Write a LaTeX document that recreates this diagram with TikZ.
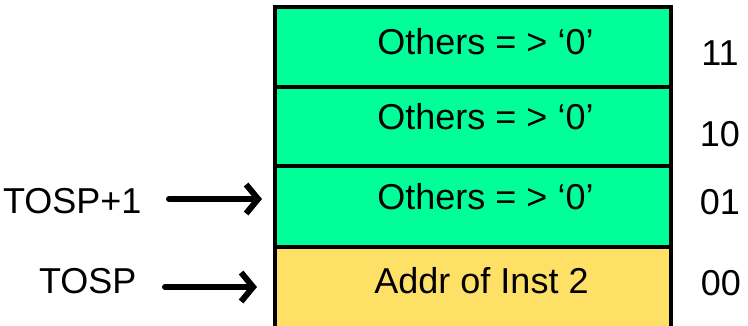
\documentclass[tikz,border=0pt]{standalone}
\usepackage{fontspec}
\setmainfont{Liberation Sans}
\usetikzlibrary{arrows.meta}
\definecolor{stackgreen}{RGB}{0,255,153}
\definecolor{stackyellow}{RGB}{255,224,102}
\tikzset{
	cell/.style={draw, line width=4pt, minimum width=396pt, inner sep=0pt},
	ptr/.style={line width=6pt, line cap=round, line join=round, -{Straight Barb[length=12pt,width=29pt]}},
}
\begin{document}
\begin{tikzpicture}[x=1pt, y=-1pt, every node/.append style={font=\fontsize{36}{40}\selectfont}]
			\useasboundingbox (0,0) rectangle (748,325);
			
			% the stack, entry 11 on top
			\node[cell, fill=stackgreen, minimum height=79.5pt] (c11) at (473,46.75) {};
			\node[cell, fill=stackgreen, minimum height=79.5pt] (c10) at (473,126.25) {};
			\node[cell, fill=stackgreen, minimum height=80.5pt] (c01) at (473,206.25) {};
			\node[cell, fill=stackyellow, minimum height=98.5pt] (c00) at (473,295.75) {};
			
			\node[anchor=base] (t11) at (485.5,54.5) {Others = > ‘0’};
			\node[anchor=base] (t10) at (485.5,129.5) {Others = > ‘0’};
			\node[anchor=base] (t01) at (485.5,209) {Others = > ‘0’};
			\node[anchor=base] (t00) at (481.5,293) {Addr of Inst 2};
			
				\node[anchor=base] (n11) at (720,65) {11};
				\node[anchor=base] (n10) at (720,146) {10};
				\node[anchor=base] (n01) at (720,214) {01};
				\node[anchor=base] (n00) at (721,295) {00};
			
			% stack pointers
			\node[anchor=base east] (l01) at (145,213) {TOSP+1};
			\node[anchor=base east] (l00) at (140,293) {TOSP};
			\coordinate (a01) at (169,199);
			\coordinate (a00) at (165,287);
			\draw[ptr, shorten >=11pt] (a01) -- (a01 -| c01.west);
			\draw[ptr, shorten >=16pt] (a00) -- (a00 -| c00.west);
		\end{tikzpicture}
\end{document}
